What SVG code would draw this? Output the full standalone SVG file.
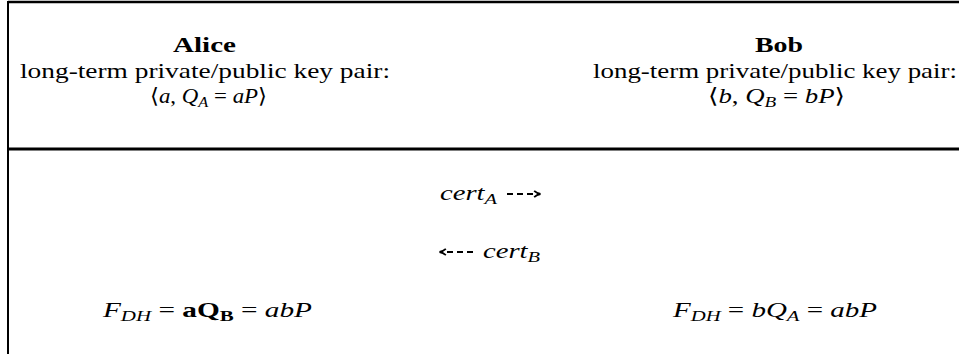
<svg xmlns="http://www.w3.org/2000/svg" width="959" height="354" viewBox="0 0 959 354">
<defs>
<style>
text{font-family:"Liberation Serif","DejaVu Serif",serif;font-size:21px;fill:#000}
.b{font-weight:bold}
.i{font-style:italic}
.s{font-size:15px}
.line{stroke:#000;fill:none}
.conn{stroke:#000;stroke-width:2;fill:none;stroke-dasharray:6 4}
</style>
<marker id="ah" viewBox="0 0 10 10" refX="8.5" refY="5" markerWidth="9" markerHeight="9" markerUnits="userSpaceOnUse" orient="auto-start-reverse">
<path d="M2,1.5 Q5,4.2 9,5 Q5,5.8 2,8.5" fill="none" stroke="#000" stroke-width="2"/>
</marker>
</defs>
<rect width="959" height="354" fill="#fff"/>
<g id="frame">
<line class="line" x1="8" y1="2" x2="959" y2="2" stroke-width="2.4"/>
<line class="line" x1="8" y1="1" x2="8" y2="354" stroke-width="2"/>
<line class="line" x1="8" y1="149" x2="959" y2="149" stroke-width="3"/>
</g>
<g id="alice">
<text class="b" x="173" y="52" textLength="63" lengthAdjust="spacingAndGlyphs">Alice</text>
<text x="20" y="78" textLength="370" lengthAdjust="spacingAndGlyphs">long-term private/public key pair:</text>
<text x="150" y="103" textLength="117" lengthAdjust="spacingAndGlyphs">⟨<tspan class="i">a</tspan>, <tspan class="i">Q</tspan><tspan class="s i" dy="4">A</tspan><tspan dy="-4"> = </tspan><tspan class="i">aP</tspan>⟩</text>
</g>
<g id="bob">
<text class="b" x="755" y="52" textLength="48" lengthAdjust="spacingAndGlyphs">Bob</text>
<text x="593" y="78" textLength="364" lengthAdjust="spacingAndGlyphs">long-term private/public key pair:</text>
<text x="708" y="103" textLength="137" lengthAdjust="spacingAndGlyphs">⟨<tspan class="i">b</tspan>, <tspan class="i">Q</tspan><tspan class="s i" dy="4">B</tspan><tspan dy="-4"> = </tspan><tspan class="i">bP</tspan>⟩</text>
</g>
<g id="msg-a">
<text x="440" y="200" textLength="57" lengthAdjust="spacingAndGlyphs"><tspan class="i">cert</tspan><tspan class="s i" dy="4">A</tspan></text>
</g>
<g id="msg-b">
<text x="483" y="258" textLength="57" lengthAdjust="spacingAndGlyphs"><tspan class="i">cert</tspan><tspan class="s i" dy="4">B</tspan></text>
</g>
<g id="connectors">
<path class="conn" d="M507,194 H540" marker-end="url(#ah)"/>
<path class="conn" d="M473,252 H440" marker-end="url(#ah)"/>
</g>
<g id="alice-key">
<text x="103" y="317" textLength="209" lengthAdjust="spacingAndGlyphs"><tspan class="i">F</tspan><tspan class="s i" dy="4">DH</tspan><tspan dy="-4"> = </tspan><tspan class="b">aQ</tspan><tspan class="s b" dy="4">B</tspan><tspan dy="-4"> = </tspan><tspan class="i">abP</tspan></text>
</g>
<g id="bob-key">
<text x="673" y="317" textLength="204" lengthAdjust="spacingAndGlyphs"><tspan class="i">F</tspan><tspan class="s i" dy="4">DH</tspan><tspan dy="-4"> = </tspan><tspan class="i">bQ</tspan><tspan class="s i" dy="4">A</tspan><tspan dy="-4"> = </tspan><tspan class="i">abP</tspan></text>
</g>
</svg>
